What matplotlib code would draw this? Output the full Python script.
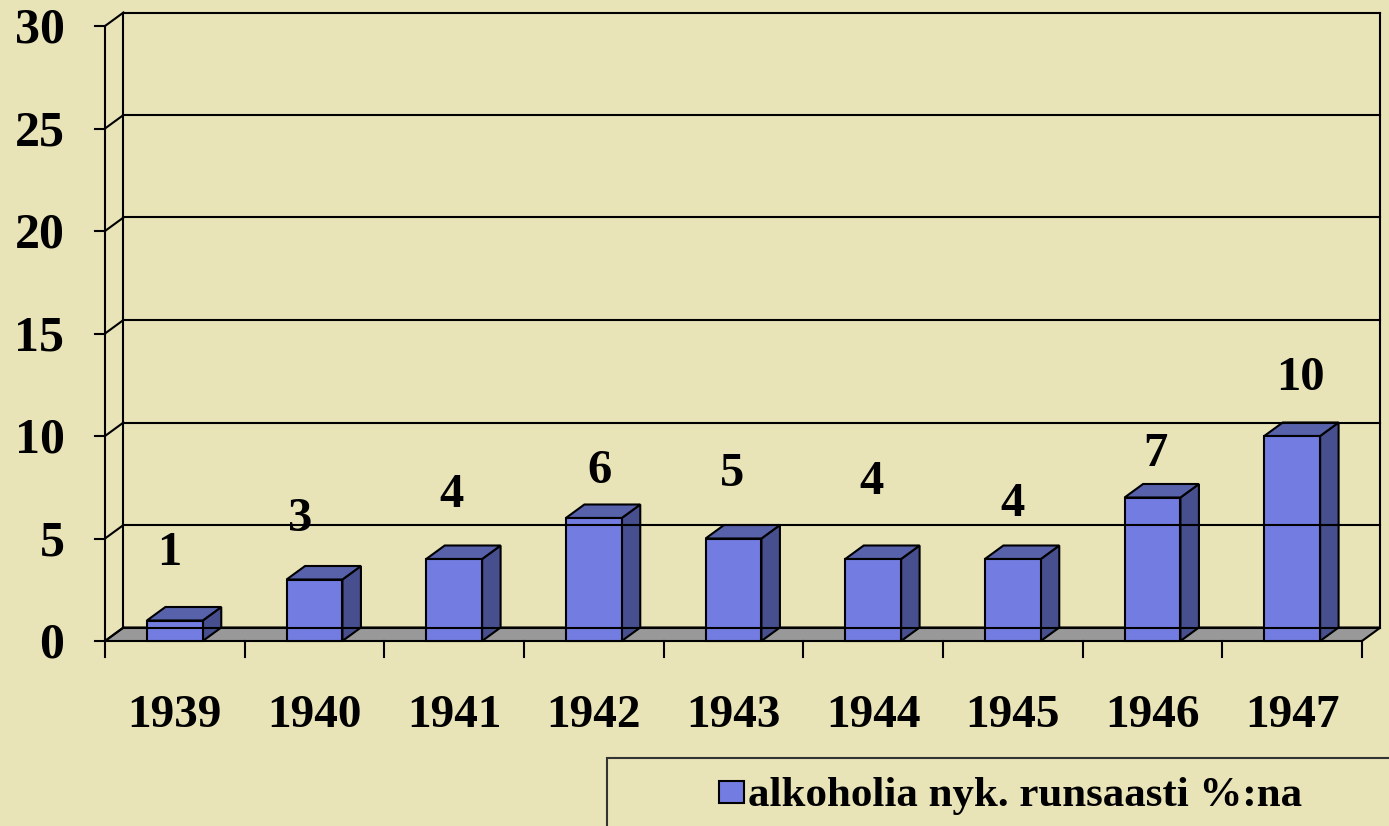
import matplotlib.pyplot as plt
from matplotlib.patches import Polygon, Rectangle

# data
years = ['1939', '1940', '1941', '1942', '1943', '1944', '1945', '1946', '1947']
values = [1, 3, 4, 6, 5, 4, 4, 7, 10]
yticks = [0, 5, 10, 15, 20, 25, 30]
series_name = 'alkoholia nyk. runsaasti %:na'

# where each value label sits above its bar (data units)
label_offsets = [3.3, 2.95, 3.1, 2.3, 3.15, 3.75, 2.7, 2.1, 2.85]
label_shift = [-0.04, -0.1, -0.02, 0.04, -0.01, -0.01, 0.0, 0.02, 0.06]

bg = '#e9e3b8'
front_col = '#737de1'
side_col = '#474f8e'
top_col = '#5762ab'
floor_col = '#999999'
font = ['Liberation Serif', 'DejaVu Serif']

W, H = 1389, 826
fig = plt.figure(figsize=(W / 100, H / 100), dpi=100, facecolor=bg)
# axes = front plane of the 3D box
ax = fig.add_axes([105 / W, 1 - 641 / H, (1362 - 105) / W, (641 - 26) / H])
ax.set_xlim(0, len(years))
ax.set_ylim(0, 30)
ax.axis('off')

n = len(years)
dx = 18.5 / 139.7   # depth offset in category units
dy = 13.5 / 20.5    # depth offset in value units
lw = 1.5

# back wall gridlines + side wall diagonals
for v in yticks:
    ax.plot([dx, n + dx], [v + dy, v + dy], color='black', lw=lw, clip_on=False)
    ax.plot([0, dx], [v, v + dy], color='black', lw=lw, clip_on=False)
    ax.plot([-0.072, 0], [v, v], color='black', lw=lw, clip_on=False)
    ax.text(-0.29, v - 0.22, str(v), ha='right', va='center', fontsize=36,
            fontweight='bold', family=font)
ax.plot([0, 0], [0, 30], color='black', lw=lw, clip_on=False)
ax.plot([dx, dx], [dy, 30 + dy], color='black', lw=lw, clip_on=False)
ax.plot([n + dx, n + dx], [dy, 30 + dy], color='black', lw=lw, clip_on=False)

# floor
ax.add_patch(Polygon([(0, 0), (n, 0), (n + dx, dy), (dx, dy)], closed=True,
                     facecolor=floor_col, edgecolor='black', lw=lw, clip_on=False))

# x ticks
for i in range(n + 1):
    ax.plot([i, i], [0, -0.8], color='black', lw=lw, clip_on=False)

# bars
bw = 0.4
for i, v in enumerate(values):
    l = i + 0.5 - bw / 2
    r = l + bw
    ax.add_patch(Polygon([(r, 0), (r + dx, dy), (r + dx, v + dy), (r, v)], closed=True,
                         facecolor=side_col, edgecolor='black', lw=lw, clip_on=False))
    ax.add_patch(Polygon([(l, v), (r, v), (r + dx, v + dy), (l + dx, v + dy)], closed=True,
                         facecolor=top_col, edgecolor='black', lw=lw, clip_on=False))
    ax.add_patch(Rectangle((l, 0), bw, v, facecolor=front_col, edgecolor='black',
                           lw=lw, clip_on=False))
    ax.text(i + 0.5 + label_shift[i], v + label_offsets[i], str(v), ha='center',
            va='center', fontsize=35, fontweight='bold', family=font)
    ax.text(i + 0.5, -3.65, years[i], ha='center', va='center', fontsize=34,
            fontweight='bold', family=font)

# legend box (runs off the figure edge like the original)
fig.patches.append(Rectangle((607 / W, -0.05), 0.6, 0.05 + (826 - 758) / H,
                             transform=fig.transFigure, facecolor=bg,
                             edgecolor='#333333', lw=lw))
fig.patches.append(Rectangle((719 / W, 1 - 803 / H), 25 / W, 22 / H,
                             transform=fig.transFigure, facecolor=front_col,
                             edgecolor='black', lw=lw))
fig.text(748 / W, 1 - 796 / H, series_name, ha='left', va='center', fontsize=31,
         fontweight='bold', family=font)

fig.savefig('out.png', dpi=100, facecolor=bg)
